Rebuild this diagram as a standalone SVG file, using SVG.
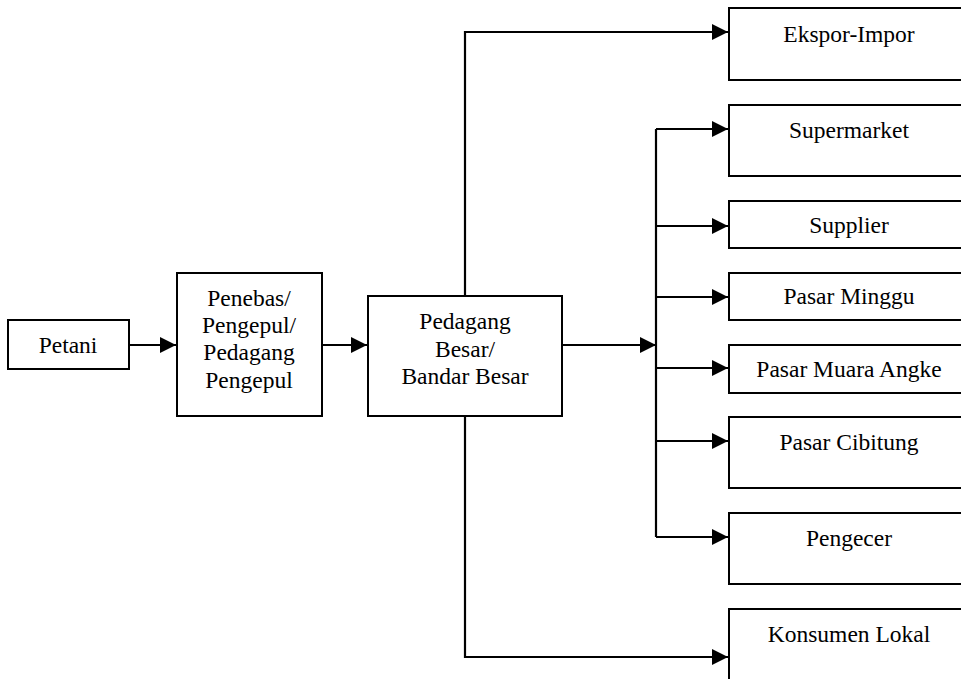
<svg xmlns="http://www.w3.org/2000/svg" width="961" height="679" viewBox="0 0 961 679" font-family="Liberation Serif, Times New Roman, serif">
<style>
.box{fill:#fff;stroke:#000;stroke-width:2}
.t{font-size:23.5px;fill:#000;text-anchor:middle}
.c{fill:none;stroke:#000;stroke-width:2.2}
</style>
<defs>
<marker id="ah" markerWidth="16" markerHeight="16" refX="16" refY="8" orient="auto" markerUnits="userSpaceOnUse">
<path d="M0,0 L16,8 L0,16 Z" fill="#000"/>
</marker>
</defs>
<rect width="961" height="679" fill="#fff"/>
<g id="connectors">
<path class="c" d="M129,345 H176" marker-end="url(#ah)"/>
<path class="c" d="M322,345 H367" marker-end="url(#ah)"/>
<path class="c" d="M465,296 V32 H728" marker-end="url(#ah)"/>
<path class="c" d="M465,416 V657 H728" marker-end="url(#ah)"/>
<path class="c" d="M562,345 H656" marker-end="url(#ah)"/>
<path class="c" d="M656,129 V537"/>
<path class="c" d="M656,129 H728" marker-end="url(#ah)"/>
<path class="c" d="M656,226 H728" marker-end="url(#ah)"/>
<path class="c" d="M656,297 H728" marker-end="url(#ah)"/>
<path class="c" d="M656,368 H728" marker-end="url(#ah)"/>
<path class="c" d="M656,441 H728" marker-end="url(#ah)"/>
<path class="c" d="M656,537 H728" marker-end="url(#ah)"/>
</g>
<g id="petani">
<rect class="box" x="8" y="320" width="121" height="49"/>
<text class="t" x="68" y="353" font-family="Liberation Serif, serif">Petani</text>
</g>
<g id="penebas">
<rect class="box" x="177" y="273" width="145" height="143"/>
<text class="t" x="249" y="306">Penebas/</text>
<text class="t" x="249" y="333">Pengepul/</text>
<text class="t" x="249" y="360">Pedagang</text>
<text class="t" x="249" y="388">Pengepul</text>
</g>
<g id="pedagang">
<rect class="box" x="368" y="296" width="194" height="120"/>
<text class="t" x="465" y="329">Pedagang</text>
<text class="t" x="465" y="357">Besar/</text>
<text class="t" x="465" y="384">Bandar Besar</text>
</g>
<g id="ekspor">
<rect class="box" x="729" y="8" width="241" height="72"/>
<text class="t" x="849" y="42">Ekspor-Impor</text>
</g>
<g id="supermarket">
<rect class="box" x="729" y="105" width="241" height="71"/>
<text class="t" x="849" y="138">Supermarket</text>
</g>
<g id="supplier">
<rect class="box" x="729" y="201" width="241" height="47"/>
<text class="t" x="849" y="233">Supplier</text>
</g>
<g id="pasar-minggu">
<rect class="box" x="729" y="273" width="241" height="47"/>
<text class="t" x="849" y="304">Pasar Minggu</text>
</g>
<g id="pasar-muara-angke">
<rect class="box" x="729" y="345" width="241" height="48"/>
<text class="t" x="849" y="377">Pasar Muara Angke</text>
</g>
<g id="pasar-cibitung">
<rect class="box" x="729" y="417" width="241" height="71"/>
<text class="t" x="849" y="450">Pasar Cibitung</text>
</g>
<g id="pengecer">
<rect class="box" x="729" y="513" width="241" height="71"/>
<text class="t" x="849" y="546">Pengecer</text>
</g>
<g id="konsumen-lokal">
<rect class="box" x="729" y="609" width="241" height="90"/>
<text class="t" x="849" y="642">Konsumen Lokal</text>
</g>
</svg>
